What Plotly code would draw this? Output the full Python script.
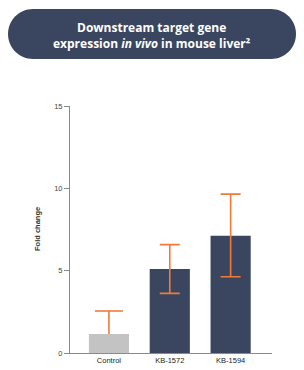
import plotly.graph_objects as go

categories = ["Control", "KB-1572", "KB-1594"]
values = [1.15, 5.1, 7.12]
err_plus = [1.4, 1.48, 2.53]
err_minus = [None, 1.48, 2.49]   # control shows upper error only
bar_colors = ["#c3c3c3", "#3a4660", "#3a4660"]
y_ticks = [0, 5, 10, 15]
err_color = "#f07a3a"

W, H = 304, 370
l, rr, t, b = 70, 32, 106, 17

fig = go.Figure()
fig.add_trace(go.Bar(
    x=categories, y=values,
    marker=dict(color=bar_colors, line=dict(width=0)),
    width=0.66, hoverinfo="x+y",
))

for c, v, p, m in zip(categories, values, err_plus, err_minus):
    if m is None:
        # upper-only error bar (no lower cap)
        fig.add_trace(go.Scatter(
            x=[c, c], y=[v, v + p], mode="lines",
            line=dict(color=err_color, width=1.6), hoverinfo="skip",
        ))
        fig.add_trace(go.Scatter(
            x=[c], y=[v + p], mode="markers",
            marker=dict(symbol="line-ew", size=20,
                        line=dict(color=err_color, width=1.6)),
            hoverinfo="skip",
        ))
    else:
        fig.add_trace(go.Scatter(
            x=[c], y=[v], mode="markers", marker=dict(size=1, opacity=0),
            error_y=dict(type="data", symmetric=False, array=[p], arrayminus=[m],
                         color=err_color, thickness=1.6, width=10),
            hoverinfo="skip",
        ))

fig.update_layout(
    width=W, height=H,
    margin=dict(l=l, r=rr, t=t, b=b, autoexpand=False),
    paper_bgcolor="white", plot_bgcolor="white",
    showlegend=False,
    font=dict(family="Liberation Sans, Arial, sans-serif", color="#333"),
    xaxis=dict(range=[-0.64, 2.68], showline=True, linecolor="#8a8a8a", linewidth=1,
               ticks="", showgrid=False, zeroline=False, automargin=False,
               tickfont=dict(size=7.5, color="#222")),
    yaxis=dict(range=[0, 15], tickvals=y_ticks, showline=True, linecolor="#8a8a8a",
               linewidth=1, ticks="outside", ticklen=5, tickcolor="#8a8a8a",
               showgrid=False, zeroline=False, automargin=False,
               tickfont=dict(size=7.5, color="#444")),
)

pw, ph = W - l - rr, H - t - b
def px(x): return (x - l) / pw
def py(y): return (H - b - y) / ph

fig.add_annotation(x=px(37), y=py(229), xref="paper", yref="paper", showarrow=False,
                   text="<b>Fold change</b>", textangle=-90,
                   font=dict(size=7.5, color="#333"), xanchor="center", yanchor="middle")

# Header pill (cubic arcs for round ends)
x0, x1, y0, y1 = 8, 296, 9, 59
r = (y1 - y0) / 2
k = 0.5523 * r
def P(x, y): return f"{px(x):.5f},{py(y):.5f}"
path = (f"M {P(x0+r, y0)} L {P(x1-r, y0)} "
        f"C {P(x1-r+k, y0)} {P(x1, y0+r-k)} {P(x1, y0+r)} "
        f"C {P(x1, y0+r+k)} {P(x1-r+k, y1)} {P(x1-r, y1)} "
        f"L {P(x0+r, y1)} "
        f"C {P(x0+r-k, y1)} {P(x0, y0+r+k)} {P(x0, y0+r)} "
        f"C {P(x0, y0+r-k)} {P(x0+r-k, y0)} {P(x0+r, y0)} Z")
fig.add_shape(type="path", path=path, xref="paper", yref="paper",
              fillcolor="#3a4660", line=dict(width=0), layer="above")

fig.add_annotation(
    x=px(152), y=py(35), xref="paper", yref="paper", showarrow=False,
    text="<b>Downstream target gene<br>expression <i>in vivo</i> in mouse liver²</b>",
    font=dict(family="Open Sans, sans-serif", size=12, color="white"),
    align="center", xanchor="center", yanchor="middle",
)

fig.write_html("out.html", config={"displayModeBar": False},
               post_script="document.body.style.margin='0';")
